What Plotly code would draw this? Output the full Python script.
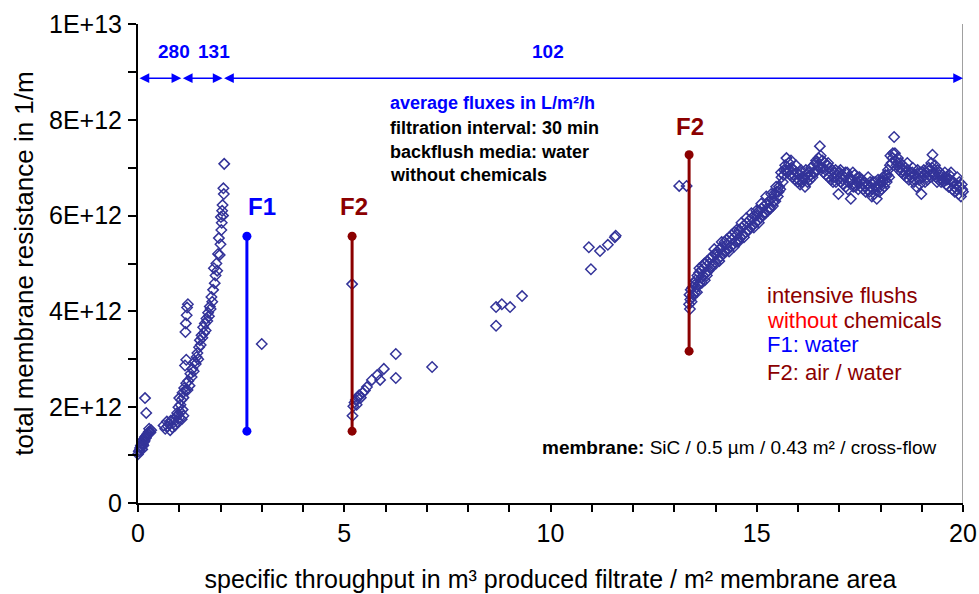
import plotly.graph_objects as go

E12 = 1e12

# ---- measured data (x: m3/m2, R: 1E12 1/m) ----
x_start = [0.0, 0.02, 0.04, 0.05, 0.07, 0.08, 0.1, 0.11, 0.12, 0.14, 0.15, 0.17, 0.18, 0.2, 0.22, 0.24,
           0.26, 0.28, 0.3, 0.32, 0.17, 0.2, 0.1, 0.13, 0.16, 0.19, 0.23, 0.27]
r_start = [1.02, 1.08, 1.1, 1.15, 1.2, 1.18, 1.25, 1.3, 1.22, 1.33, 1.28, 1.38, 1.35, 1.4, 1.42, 1.45,
           1.48, 1.5, 1.47, 1.52, 2.19, 1.88, 1.12, 1.2, 1.3, 1.36, 1.44, 1.55]

x_flat = [0.62, 0.66, 0.7, 0.72, 0.75, 0.78, 0.8, 0.83, 0.86, 0.88, 0.9, 0.93, 0.96, 0.98, 1.0, 1.03, 1.06, 1.08, 1.1]
r_flat = [1.62, 1.55, 1.7, 1.6, 1.65, 1.52, 1.72, 1.58, 1.68, 1.75, 1.62, 1.8, 1.7, 1.85, 1.78, 1.9, 1.75, 1.95, 1.82]

x_rise = [0.95, 0.98, 1.0, 1.03, 1.05, 1.08, 1.1, 1.12, 1.15, 1.17, 1.2, 1.22, 1.25, 1.27, 1.3, 1.32, 1.35,
          1.37, 1.4, 1.42, 1.44, 1.46, 1.48, 1.5, 1.52, 1.54, 1.56, 1.58, 1.6, 1.62, 1.64, 1.66, 1.68, 1.7,
          1.72, 1.74, 1.76, 1.78, 1.8, 1.82, 1.84, 1.86, 1.88, 1.9, 1.92, 1.94, 1.96, 1.98, 2.0, 2.01, 2.02,
          2.03, 2.04, 2.05, 2.06, 2.07, 2.08, 2.09,
          1.14, 1.17, 1.15, 1.16, 1.18, 1.19, 1.21]
r_rise = [1.88, 2.0, 2.19, 2.05, 2.15, 2.3, 2.2, 2.4, 2.35, 2.5, 2.36, 2.55, 2.45, 2.7, 2.63, 2.8, 2.75,
          2.95, 2.9, 3.05, 3.13, 3.0, 3.25, 3.4, 3.3, 3.5, 3.45, 3.67, 3.55, 3.75, 3.6, 3.85, 3.8, 3.97,
          3.9, 4.1, 4.05, 4.3, 4.2, 4.45, 4.9, 4.59, 4.75, 5.0, 4.85, 5.2, 5.53, 5.18, 5.4, 5.97, 5.7,
          5.85, 6.1, 6.22, 6.0, 6.57, 6.45, 7.08,
          2.87, 2.99, 3.57, 3.75, 3.92, 4.08, 4.15]

x_mid = [3.0, 5.19, 5.2, 5.22, 5.25, 5.28, 5.3, 5.33, 5.36, 5.4, 5.45, 5.5, 5.55, 5.67, 5.8, 5.87, 5.96,
         6.25, 6.25, 7.13, 8.68, 8.68, 8.82, 9.02, 9.31, 10.93, 10.98, 11.2, 11.39, 11.56, 11.58, 13.12, 13.3]
r_mid = [3.32, 4.57, 1.82, 2.02, 2.1, 2.15, 2.05, 2.2, 2.25, 2.2, 2.3, 2.35, 2.42, 2.57, 2.67, 2.57, 2.8,
         3.11, 2.61, 2.84, 4.09, 3.7, 4.15, 4.09, 4.32, 5.34, 4.88, 5.26, 5.39, 5.55, 5.58, 6.62, 6.62]

x_late = [13.36, 13.37, 13.38, 13.39, 13.40, 13.42, 13.44, 13.46, 13.48, 13.50,
          13.52, 13.54, 13.56, 13.58, 13.60, 13.62, 13.64, 13.66, 13.68, 13.70, 13.72, 13.74, 13.76, 13.78,
          13.80, 13.83, 13.86, 13.89, 13.92, 13.95, 13.98,
          14.01, 14.04, 14.07, 14.10, 14.13, 14.16, 14.19, 14.22, 14.25, 14.28, 14.31, 14.34, 14.37, 14.40,
          14.43, 14.46, 14.49,
          14.52, 14.55, 14.58, 14.61, 14.64, 14.67, 14.70, 14.73, 14.76, 14.79, 14.82, 14.85, 14.88, 14.91,
          14.94, 14.97,
          15.00, 15.03, 15.06, 15.09, 15.12, 15.15, 15.18, 15.21, 15.24, 15.27, 15.30, 15.33, 15.36, 15.39,
          15.42, 15.45, 15.48,
          15.51, 15.54, 15.57, 15.60, 15.63, 15.66, 15.69, 15.72, 15.75, 15.78, 15.81, 15.84, 15.87, 15.90,
          15.93, 15.96, 15.99,
          16.02, 16.05, 16.08, 16.11, 16.14, 16.17, 16.20, 16.23, 16.26, 16.29, 16.32, 16.35, 16.38, 16.41,
          16.44, 16.47,
          16.50, 16.53, 16.56, 16.59, 16.62, 16.65, 16.68, 16.71, 16.74, 16.77, 16.80, 16.83, 16.86, 16.89,
          16.92, 16.95, 16.98,
          17.01, 17.04, 17.07, 17.10, 17.13, 17.16, 17.19, 17.22, 17.25, 17.28, 17.31, 17.34, 17.37, 17.40,
          17.43, 17.46, 17.49,
          17.52, 17.55, 17.58, 17.61, 17.64, 17.67, 17.70, 17.73, 17.76, 17.79, 17.82, 17.85, 17.88, 17.91,
          17.94, 17.97,
          18.00, 18.03, 18.06, 18.09, 18.12, 18.15, 18.18, 18.21, 18.24, 18.27, 18.30, 18.33, 18.36, 18.39,
          18.42, 18.45, 18.48,
          18.51, 18.54, 18.57, 18.60, 18.63, 18.66, 18.69, 18.72, 18.75, 18.78, 18.81, 18.84, 18.87, 18.90,
          18.93, 18.96, 18.99,
          19.02, 19.05, 19.08, 19.11, 19.14, 19.17, 19.20, 19.23, 19.26, 19.29, 19.32, 19.35, 19.38, 19.41,
          19.44, 19.47,
          19.50, 19.53, 19.56, 19.59, 19.62, 19.65, 19.68, 19.71, 19.74, 19.77, 19.80, 19.83, 19.86, 19.89,
          19.92, 19.95, 19.98, 20.0]
r_late = [4.15, 4.35, 4.05, 4.25, 4.45, 4.2, 4.5, 4.35, 4.6, 4.4,
          4.65, 4.5, 4.75, 4.55, 4.8, 4.6, 4.85, 4.7, 4.95, 4.75, 4.9, 4.65, 5.0, 4.8,
          5.05, 4.85, 5.1, 4.9, 5.15, 5.0, 5.2,
          5.0, 5.25, 5.1, 5.3, 5.15, 5.35, 5.2, 5.45, 5.25, 5.4, 5.3, 5.55, 5.35, 5.5,
          5.4, 5.65, 5.45,
          5.6, 5.45, 5.7, 5.55, 5.75, 5.6, 5.8, 5.65, 5.85, 5.7, 5.9, 5.75, 5.95, 5.8,
          6.0, 5.85,
          6.0, 5.9, 6.1, 5.95, 6.15, 6.0, 6.2, 6.05, 6.25, 6.1, 6.3, 6.15, 6.35, 6.2,
          6.45, 6.3, 6.5,
          6.4, 6.6, 6.55, 6.8, 6.7, 6.95, 7.05, 7.2, 6.9, 7.1, 6.85, 7.0, 6.8, 6.95,
          6.75, 6.9, 6.7,
          6.85, 6.65, 6.9, 6.7, 6.8, 6.6, 6.85, 6.7, 6.9, 6.75, 7.0, 6.8, 7.05, 6.9,
          7.15, 6.95,
          7.2, 7.45, 7.0, 7.15, 6.9, 7.1, 6.85, 7.05, 6.8, 7.0, 6.75, 6.95, 6.8, 6.9,
          6.7, 6.85, 6.45,
          6.9, 6.7, 6.85, 6.65, 6.8, 6.6, 6.9, 6.7, 6.8, 6.35, 6.75, 6.6, 6.85, 6.65,
          6.7, 6.55, 6.8,
          6.6, 6.75, 6.55, 6.7, 6.5, 6.65, 6.8, 6.5, 6.6, 6.4, 6.7, 6.45, 6.6, 6.35,
          6.75, 6.5,
          6.7, 6.55, 6.8, 6.6, 6.85, 6.7, 6.95, 6.8, 7.25, 7.1, 7.3, 7.64, 7.15, 7.05,
          7.2, 6.95, 7.1,
          6.9, 7.05, 6.85, 7.0, 6.8, 6.95, 6.75, 6.9, 6.8, 7.0, 6.7, 6.85, 6.6, 6.95,
          6.75, 6.9, 6.45,
          6.8, 6.95, 6.7, 6.9, 6.75, 7.0, 6.85, 7.1, 7.27, 6.9, 7.05, 6.8, 6.95, 6.75,
          6.9, 6.7,
          6.85, 6.7, 6.9, 6.65, 6.8, 6.6, 6.75, 6.9, 6.55, 6.7, 6.5, 6.65, 6.8, 6.45,
          6.6, 6.4, 6.55, 6.5]

x_late2 = [13.43, 13.49, 13.55, 13.61, 13.67, 13.73, 13.79, 13.85, 13.91, 13.97, 14.03, 14.09, 14.15, 14.21,
           14.27, 14.33, 14.39, 14.45, 14.51, 14.57, 14.63, 14.69, 14.75, 14.81, 14.87, 14.93, 14.99, 15.05,
           15.11, 15.17, 15.23, 15.29, 15.35, 15.41, 15.47, 15.53, 15.59, 15.65, 15.71, 15.77, 15.83, 15.89,
           15.95, 16.01, 16.07, 16.13, 16.19, 16.25, 16.31, 16.37, 16.43, 16.49, 16.55, 16.61, 16.67, 16.73,
           16.79, 16.85, 16.91, 16.97, 17.03, 17.09, 17.15, 17.21, 17.27, 17.33, 17.39, 17.45, 17.51, 17.57,
           17.63, 17.69, 17.75, 17.81, 17.87, 17.93, 17.99, 18.05, 18.11, 18.17, 18.23, 18.29, 18.35, 18.41,
           18.47, 18.53, 18.59, 18.65, 18.71, 18.77, 18.83, 18.89, 18.95, 19.01, 19.07, 19.13, 19.19, 19.25,
           19.31, 19.37, 19.43, 19.49, 19.55, 19.61, 19.67, 19.73, 19.79, 19.85, 19.91, 19.97]
r_late2 = [4.3, 4.55, 4.4, 4.9, 4.6, 5.0, 4.75, 5.0, 4.95, 5.3, 5.2, 5.05, 5.45, 5.25,
           5.5, 5.25, 5.6, 5.35, 5.7, 5.5, 5.85, 5.55, 5.95, 5.7, 6.05, 5.75, 6.1, 5.85,
           6.25, 6.05, 6.4, 6.15, 6.45, 6.3, 6.6, 6.5, 6.9, 6.85, 6.95, 6.95, 7.15, 6.85,
           7.05, 6.75, 6.95, 6.75, 6.95, 6.8, 6.85, 6.9, 7.1, 7.05, 7.25, 7.0, 6.95, 7.1,
           6.9, 6.7, 6.95, 6.75, 6.95, 6.75, 6.9, 6.55, 6.75, 6.9, 6.6, 6.8, 6.7, 6.65,
           6.6, 6.55, 6.7, 6.55, 6.7, 6.6, 6.6, 6.7, 6.75, 6.85, 7.05, 7.2, 7.3, 7.1,
           7.0, 6.95, 6.9, 7.1, 6.85, 6.9, 6.75, 6.8, 6.65, 6.9, 6.85, 6.8, 6.95, 7.0,
           6.85, 6.7, 6.85, 6.75, 6.8, 6.75, 6.85, 6.7, 6.6, 6.55, 6.7, 6.65]

# flushes (x position, R before, R after)
f1_x = [2.64, 2.64]
f1_r = [1.5, 5.57]
f2a_x = [5.19, 5.19]
f2a_r = [1.5, 5.57]
f2b_x = [13.36, 13.36]
f2b_r = [3.17, 7.27]

# average flux segments
flux_bounds = [0.0, 1.05, 2.05, 20.0]
flux_labels = ["280", "131", "102"]
flux_label_x = [0.87, 1.84, 9.94]

x_ticks = [0, 5, 10, 15, 20]
y_ticks = [0, 2, 4, 6, 8, 10]
y_ticklabels = ["0", "2E+12", "4E+12", "6E+12", "8E+12", "1E+13"]

FONT = "Liberation Sans, Arial, sans-serif"
BLUE = "#0000FF"
DRED = "#8B0000"
MARK = "#333399"

xs = x_start + x_flat + x_rise + x_mid + x_late + x_late2
rs = r_start + r_flat + r_rise + r_mid + r_late + r_late2

fig = go.Figure()
fig.add_trace(go.Scatter(
    x=xs, y=[v * E12 for v in rs], mode="markers",
    marker=dict(symbol="diamond-open", size=8, color=MARK, line=dict(width=1.5, color=MARK)),
    showlegend=False, hoverinfo="skip", cliponaxis=False))

for fx, fr, col in [(f1_x, f1_r, BLUE), (f2a_x, f2a_r, DRED), (f2b_x, f2b_r, DRED)]:
    fig.add_trace(go.Scatter(
        x=fx, y=[v * E12 for v in fr], mode="lines+markers",
        line=dict(color=col, width=3), marker=dict(symbol="circle", size=9, color=col),
        showlegend=False, hoverinfo="skip"))

annotations = []
arrow_y = 8.87 * E12
for i in range(len(flux_labels)):
    a, b = flux_bounds[i], flux_bounds[i + 1]
    annotations.append(dict(
        x=b, y=arrow_y, ax=a, ay=arrow_y, xref="x", yref="y", axref="x", ayref="y",
        showarrow=True, arrowhead=2, arrowside="end+start", arrowsize=1.3, arrowwidth=1.5,
        arrowcolor=BLUE, text=""))
    annotations.append(dict(
        x=flux_label_x[i], y=9.42 * E12, xref="x", yref="y", showarrow=False,
        text="<b>%s</b>" % flux_labels[i], font=dict(family=FONT, size=19, color=BLUE)))

block = [("average fluxes in L/m²/h", BLUE, 8.35), ("filtration interval: 30 min", "black", 7.83),
         ("backflush media: water", "black", 7.33), ("without chemicals", "black", 6.85)]
for t, c, yy in block:
    annotations.append(dict(x=6.05, y=yy * E12, xref="x", yref="y", xanchor="left", showarrow=False,
                            text="<b>%s</b>" % t, font=dict(family=FONT, size=18, color=c)))

right = [("intensive flushs", 4.34),
         ("<span style='color:#FF0000'>without</span> chemicals", 3.82),
         ("<span style='color:#0000FF'>F1: water</span>", 3.3),
         ("F2: air / water", 2.73)]
for t, yy in right:
    annotations.append(dict(x=15.2, y=yy * E12, xref="x", yref="y", xanchor="left", showarrow=False,
                            text=t, font=dict(family=FONT, size=22, color=DRED)))

for t, xx, yy, c in [("F1", 3.0, 6.18, BLUE), ("F2", 5.24, 6.18, DRED), ("F2", 13.38, 7.87, DRED)]:
    annotations.append(dict(x=xx, y=yy * E12, xref="x", yref="y", showarrow=False,
                            text="<b>%s</b>" % t, font=dict(family=FONT, size=24, color=c)))

annotations.append(dict(x=9.75, y=1.15 * E12, xref="x", yref="y", xanchor="left", showarrow=False,
                        text="<b>membrane:</b> SiC / 0.5 µm / 0.43 m² / cross-flow",
                        font=dict(family=FONT, size=19, color="black")))

fig.update_layout(
    width=979, height=594, paper_bgcolor="white", plot_bgcolor="white",
    margin=dict(l=138, r=16, t=24, b=91),
    font=dict(family=FONT, size=25, color="black"),
    annotations=annotations,
    shapes=[dict(type="line", xref="x", yref="y", x0=20, x1=20, y0=0, y1=10 * E12,
                 line=dict(color="#A0A0A0", width=2))],
)
fig.update_xaxes(
    range=[0, 20], tickvals=x_ticks, ticktext=[str(v) for v in x_ticks], automargin=False,
    showgrid=False, zeroline=False, showline=True, linecolor="black", linewidth=2,
    ticks="outside", ticklen=7, tickwidth=2, tickcolor="black", ticklabeloverflow="allow",
    minor=dict(dtick=1, ticks="outside", ticklen=7, tickwidth=2, tickcolor="black"),
    tickfont=dict(family=FONT, size=25), ticklabelstandoff=0,
    title=dict(text="specific throughput in m³ produced filtrate / m² membrane area",
               font=dict(family=FONT, size=25), standoff=24))
fig.update_yaxes(
    range=[0, 10 * E12], tickvals=[v * E12 for v in y_ticks], ticktext=y_ticklabels, automargin=False,
    showgrid=False, zeroline=False, showline=True, linecolor="black", linewidth=2,
    ticks="outside", ticklen=8, tickwidth=2, tickcolor="black",
    minor=dict(dtick=E12, ticks="outside", ticklen=8, tickwidth=2, tickcolor="black"),
    tickfont=dict(family=FONT, size=25), ticklabelstandoff=1,
    title=dict(text="total membrane resistance in 1/m", font=dict(family=FONT, size=26), standoff=8))

fig.write_html("out.html", config={"displayModeBar": False},
               post_script="document.body.style.margin='0px';")
